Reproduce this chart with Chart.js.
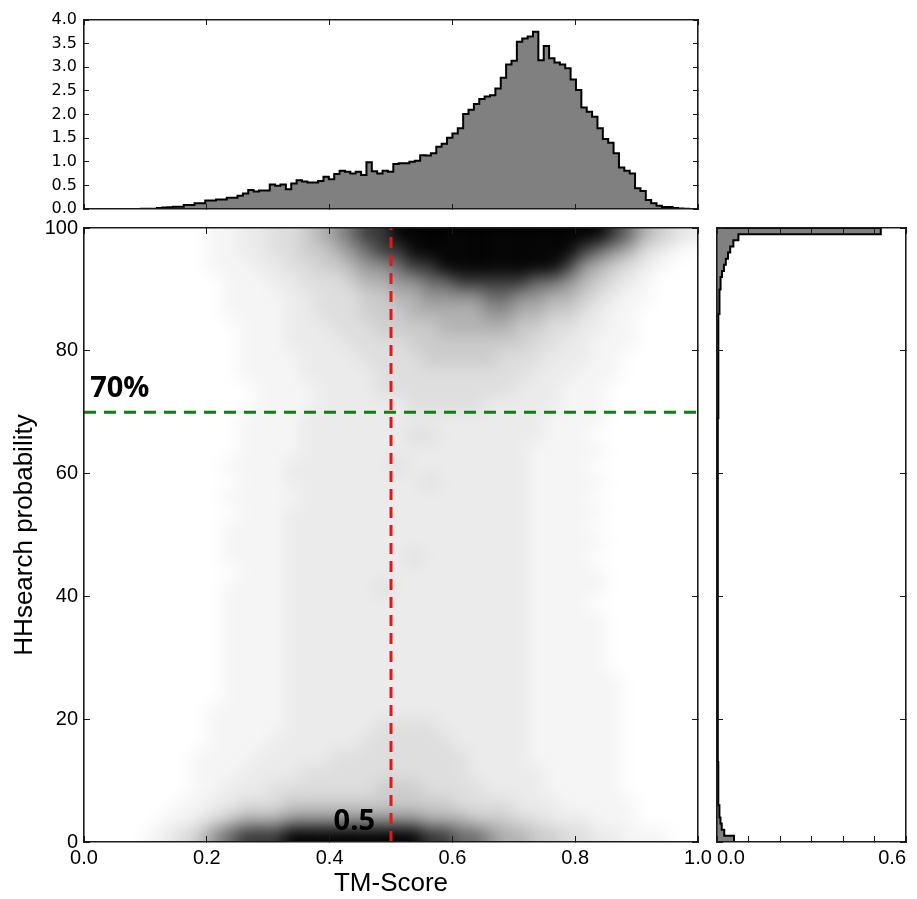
<!DOCTYPE html>
<html>
<head>
<meta charset="utf-8">
<title>TM-Score vs HHsearch probability</title>
<script src="https://cdn.jsdelivr.net/npm/chart.js@4/dist/chart.umd.min.js"></script>
<style>
  body { margin: 0; background: #fff; }
  #wrap { position: relative; width: 917px; height: 899px; overflow: hidden; }
  canvas { position: absolute; }
  #top-hist { left: 0; top: -4px; }
  #scatter { left: 0; top: 198px; }
  #side-hist { left: 705px; top: 215px; }
</style>
</head>
<body>
<div id="wrap">
  <canvas id="top-hist" width="717" height="238"></canvas>
  <canvas id="scatter" width="728" height="701"></canvas>
  <canvas id="side-hist" width="212" height="684"></canvas>
</div>
<script>
// TM-score histogram (density), equal bins starting at tmBinStart
const tmBinStart = 0.0925;
const tmBinWidth = 0.00875;
const tmDensity = [
  0.003, 0.003, 0.005, 0.02, 0.03, 0.035, 0.05, 0.05, 0.085, 0.085,
  0.12, 0.12, 0.18, 0.18, 0.20, 0.20, 0.24, 0.24, 0.28, 0.33,
  0.40, 0.37, 0.39, 0.39, 0.52, 0.49, 0.52, 0.42, 0.54, 0.61,
  0.58, 0.56, 0.56, 0.59, 0.68, 0.63, 0.74, 0.81, 0.79, 0.75,
  0.79, 0.72, 0.99, 0.80, 0.75, 0.81, 0.79, 0.95, 0.97, 0.97,
  1.00, 1.02, 1.14, 1.13, 1.18, 1.32, 1.38, 1.51, 1.60, 1.71,
  2.01, 2.10, 2.22, 2.33, 2.38, 2.41, 2.55, 2.78, 3.06, 3.14,
  3.54, 3.61, 3.65, 3.75, 3.15, 3.45, 3.19, 3.10, 3.06, 2.98,
  2.74, 2.52, 2.15, 2.06, 1.95, 1.71, 1.48, 1.40, 1.18, 0.88,
  0.81, 0.75, 0.44, 0.38, 0.19, 0.12, 0.07, 0.04, 0.04, 0.02,
  0.01, 0.005
];

// HHsearch probability histogram (density), bins of 1 from 0 to 100
const probBinWidth = 1;
const probDensity = [
  0.054, 0.023, 0.015, 0.011, 0.009, 0.007, 0.006, 0.005, 0.0045, 0.004,
  0.0035, 0.0035, 0.0032, 0.003, 0.003, 0.003, 0.0028, 0.0028, 0.0027, 0.0027,
  0.0026, 0.0026, 0.0025, 0.0025, 0.0025, 0.0025, 0.0024, 0.0025, 0.0024, 0.0024,
  0.0024, 0.0024, 0.0024, 0.0023, 0.0024, 0.0024, 0.0023, 0.0024, 0.0024, 0.0024,
  0.0024, 0.0024, 0.0024, 0.0025, 0.0024, 0.0024, 0.0025, 0.0025, 0.0025, 0.0025,
  0.0025, 0.0025, 0.0025, 0.0026, 0.0026, 0.0026, 0.0026, 0.0027, 0.0027, 0.0027,
  0.0028, 0.0028, 0.0028, 0.0029, 0.0029, 0.003, 0.003, 0.003, 0.0031, 0.0032,
  0.0032, 0.0033, 0.0034, 0.0035, 0.0036, 0.0037, 0.0038, 0.004, 0.0041, 0.0043,
  0.0045, 0.0047, 0.005, 0.0053, 0.0057, 0.006, 0.0066, 0.0072, 0.008, 0.009,
  0.01, 0.012, 0.016, 0.022, 0.028, 0.035, 0.042, 0.052, 0.068, 0.52
];

// how crowded the scatter is: 40 TM-score columns (0.025 wide)
// by 40 probability rows (2.5 wide), top row first. 0 = empty, 9 = solid black
const gridTmStep = 0.025;
const gridProbStep = 2.5;
const scatterDensity = [
  "00000000 1122 3345 6788 9999 9999 9999 9987 5432",
  "00000000 1122 3344 5678 8999 9999 9999 8765 3210",
  "00000000 1112 2334 4566 7889 9999 9998 6543 2100",
  "00000000 0111 2233 3455 6677 8888 8776 5432 1000",
  "00000000 0111 1223 3344 5566 6677 6655 4321 1000",
  "00000000 0111 1223 3344 4555 5566 5544 3211 0000",
  "00000000 0011 1222 3334 4445 5555 4433 2211 0000",
  "00000000 0011 1222 2333 3444 4444 4332 2111 0000",
  "00000000 0011 1122 2233 3344 4443 3322 2110 0000",
  "00000000 0011 1122 2223 3333 3333 3222 1110 0000",
  "00000000 0001 1112 2223 3333 3333 2221 1100 0000",
  "00000000 0001 1112 2222 2333 3322 2221 1100 0000",
  "00000000 0011 1122 2222 2222 2222 2211 1100 0000",
  "00000000 0011 1122 2222 2332 2222 2211 1000 0000",
  "00000000 0011 1122 2222 2222 2222 2111 1100 0000",
  "00000000 0111 1222 2222 3222 2222 2111 1000 0000",
  "00000000 0011 1222 2222 2232 2222 2111 1100 0000",
  "00000000 0111 1122 2222 2222 2222 2111 1000 0000",
  "00000000 0011 1222 2222 2222 2222 2111 1100 0000",
  "00000000 0111 1222 2222 2222 2222 2111 1000 0000",
  "00000000 0111 1222 2222 2222 2222 2111 1100 0000",
  "00000000 0111 1222 2222 2322 2222 2111 1000 0000",
  "00000000 0011 1222 2222 2222 2222 2111 1100 0000",
  "00000000 0111 1222 2223 2222 2222 2111 1100 0000",
  "00000000 0111 1222 2222 2222 2222 2111 1000 0000",
  "00000000 0111 1222 2222 2222 2222 2111 1100 0000",
  "00000000 0111 1222 2222 2222 2222 2111 1100 0000",
  "00000000 0111 1222 2222 2222 2222 2111 1100 0000",
  "00000000 0111 1222 2222 2222 2222 2111 1100 0000",
  "00000000 0111 1222 2222 2222 2222 2111 1110 0000",
  "00000000 0111 1222 2222 2222 2222 2111 1110 0000",
  "00000000 1111 1222 2222 2222 2222 2111 1110 0000",
  "00000000 1111 1222 2223 3332 2222 2111 1110 0000",
  "00000000 1111 2222 2233 3333 2222 2111 1110 0000",
  "00000001 1112 2222 3333 3333 3222 2111 1110 0000",
  "00000001 1122 2233 3333 3333 3222 2211 1110 0000",
  "00000001 1222 3333 3334 4433 3322 2211 1110 0000",
  "00000011 2233 3444 4444 4444 3333 2221 1111 0000",
  "00000112 3455 5666 6666 6655 5444 3322 2111 0000",
  "00001234 6788 8999 9999 9988 7765 5443 3221 1100"
];

// thresholds marked on the scatter
const tmCut = 0.5;
const probCut = 70;

// tick values and labels
const tmTicks = [0, 0.2, 0.4, 0.6, 0.8, 1.0];
const probTicks = [0, 20, 40, 60, 80, 100];
const tmDensityTicks = [0, 0.5, 1.0, 1.5, 2.0, 2.5, 3.0, 3.5, 4.0];
const probDensityTicks = [0, 0.1, 0.2, 0.3, 0.4, 0.5, 0.6];
const probDensityLabels = ['0.0', '', '', '', '', '', '0.6'];


/* ============================== HELPERS ============================== */
Chart.defaults.font.family = "'Liberation Sans', Arial, sans-serif";
Chart.defaults.color = '#000';

const INK = '#1a1a1a';
const LEVEL_ALPHA = [0, 0.04, 0.08, 0.13, 0.2, 0.3, 0.42, 0.58, 0.78, 1];

function frameAxis(position, min, max, values, size, tickLen, labels) {
    return {
        type: 'linear',
        position: position,
        min: min,
        max: max,
        afterBuildTicks: scale => { scale.ticks = values.map(v => ({ value: v })); },
        afterFit: scale => {
            if (scale.isHorizontal()) scale.height = size;
            else scale.width = size;
        },
        border: { display: true, color: INK, width: 1.6, z: 1 },
        grid: { drawOnChartArea: false, drawTicks: true, tickLength: -tickLen, color: INK, lineWidth: 1, z: 1 },
        ticks: labels ? {
            display: true,
            autoSkip: false,
            maxRotation: 0,
            font: labels.font,
            padding: labels.padding,
            align: labels.align || 'center',
            callback: labels.format
        } : { display: false },
        title: labels && labels.title ? labels.title : { display: false }
    };
}

const baseOptions = (padding, scales) => ({
    responsive: false,
    animation: false,
    devicePixelRatio: 1,
    events: [],
    layout: { padding: padding },
    plugins: { legend: { display: false }, tooltip: { enabled: false } },
    scales: scales
});

// softens the density cells into a cloud: copy the plot area, stretch its
// edge pixels outward so the blur does not fade at the frame, blur it back
const densityBlur = {
    id: 'densityBlur',
    afterDatasetDraw(chart, args) {
        if (args.index !== 0) return;
        const { ctx, canvas } = chart;
        const { left, top, width, height } = chart.chartArea;
        const w = Math.round(width), h = Math.round(height), m = 24;
        const pad = document.createElement('canvas');
        pad.width = w + 2 * m;
        pad.height = h + 2 * m;
        const p = pad.getContext('2d');
        p.drawImage(canvas, left, top, w, h, m, m, w, h);
        p.drawImage(pad, m, m, w, 1, m, 0, w, m);
        p.drawImage(pad, m, m + h - 1, w, 1, m, m + h, w, m);
        p.drawImage(pad, m, 0, 1, h + 2 * m, 0, 0, m, h + 2 * m);
        p.drawImage(pad, m + w - 1, 0, 1, h + 2 * m, m + w, 0, m, h + 2 * m);

        ctx.save();
        ctx.clearRect(left, top, w, h);
        ctx.beginPath();
        ctx.rect(left, top, w, h);
        ctx.clip();
        ctx.filter = 'blur(8px)';
        ctx.drawImage(pad, left - m, top - m);
        ctx.restore();
    }
};

// bold call-outs next to the threshold lines
const callouts = [
    { text: '70%', tm: 0.01, prob: 72.5, align: 'left' },
    { text: '0.5', tm: 0.474, prob: 1.95, align: 'right' }
];
const calloutPlugin = {
    id: 'callouts',
    afterDatasetsDraw(chart) {
        const { ctx, scales } = chart;
        ctx.save();
        ctx.font = "bold 29px 'Open Sans', 'DejaVu Sans', sans-serif";
        ctx.fillStyle = '#000';
        ctx.textBaseline = 'alphabetic';
        callouts.forEach(c => {
            ctx.textAlign = c.align;
            ctx.fillText(c.text, scales.x.getPixelForValue(c.tm), scales.y.getPixelForValue(c.prob));
        });
        ctx.restore();
    }
};


/* ============================== TOP HISTOGRAM ============================== */
const tmOutline = [{ x: tmBinStart, y: 0 }];
tmDensity.forEach((v, k) => {
    const left = tmBinStart + k * tmBinWidth;
    tmOutline.push({ x: left, y: v }, { x: left + tmBinWidth, y: v });
});
tmOutline.push({ x: tmBinStart + tmDensity.length * tmBinWidth, y: 0 });

new Chart(document.getElementById('top-hist'), {
    type: 'scatter',
    data: {
        datasets: [{
            data: tmOutline,
            showLine: true,
            fill: 'shape',
            backgroundColor: '#808080',
            borderColor: '#000',
            borderWidth: 2,
            pointRadius: 0,
            tension: 0
        }]
    },
    options: baseOptions({ top: 24, right: 19, left: 0, bottom: 0 }, {
        x: frameAxis('bottom', 0, 1, tmTicks, 25, 5, null),
        xTop: frameAxis('top', 0, 1, tmTicks, 0, 5, null),
        y: frameAxis('left', 0, 4, tmDensityTicks, 84, 5, {
            font: { family: "'DejaVu Sans', sans-serif", size: 16 },
            padding: 12,
            format: v => v.toFixed(1)
        }),
        yRight: frameAxis('right', 0, 4, tmDensityTicks, 0, 5, null)
    })
});


/* ============================== SCATTER ============================== */
const densityPoints = [];
const densityColors = [];
scatterDensity.forEach((row, r) => {
    const cells = row.replace(/ /g, '');
    const probCenter = (scatterDensity.length - r - 0.5) * gridProbStep;
    for (let c = 0; c < cells.length; c++) {
        const level = +cells[c];
        if (!level) continue;
        densityPoints.push({ x: (c + 0.5) * gridTmStep, y: probCenter });
        densityColors.push('rgba(0,0,0,' + LEVEL_ALPHA[level] + ')');
    }
});

new Chart(document.getElementById('scatter'), {
    type: 'scatter',
    data: {
        datasets: [{
            data: densityPoints,
            pointStyle: 'rect',
            pointRadius: 10.9,
            pointBorderWidth: 0,
            pointBackgroundColor: densityColors,
            order: 2
        }, {
            data: [{ x: tmCut, y: 0 }, { x: tmCut, y: 100 }],
            showLine: true,
            borderColor: '#e0191b',
            borderWidth: 3,
            borderDash: [11, 7],
            pointRadius: 0,
            order: 0
        }, {
            data: [{ x: 0, y: probCut }, { x: 1, y: probCut }],
            showLine: true,
            borderColor: '#0f7f12',
            borderWidth: 3,
            borderDash: [12, 8],
            pointRadius: 0,
            order: 1
        }]
    },
    options: baseOptions({ top: 30, right: 30, left: 0, bottom: 0 }, {
        x: frameAxis('bottom', 0, 1, tmTicks, 57, 6, {
            font: { size: 20 },
            padding: 10,
            format: v => v.toFixed(1),
            title: { display: true, text: 'TM-Score', font: { size: 26 }, padding: { top: 0, bottom: 0 } }
        }),
        xTop: frameAxis('top', 0, 1, tmTicks, 0, 6, null),
        y: frameAxis('left', 0, 100, probTicks, 84, 6, {
            font: { size: 20 },
            padding: 12,
            format: v => String(v),
            title: { display: true, text: 'HHsearch probability', font: { size: 26 }, padding: { top: 9, bottom: 0 } }
        }),
        yRight: frameAxis('right', 0, 100, probTicks, 0, 6, null)
    }),
    plugins: [densityBlur, calloutPlugin]
});


/* ============================== SIDE HISTOGRAM ============================== */
const probOutline = [{ x: 0, y: 0 }];
probDensity.forEach((v, k) => {
    probOutline.push({ x: v, y: k * probBinWidth }, { x: v, y: (k + 1) * probBinWidth });
});
probOutline.push({ x: 0, y: probDensity.length * probBinWidth });

new Chart(document.getElementById('side-hist'), {
    type: 'scatter',
    data: {
        datasets: [{
            data: probOutline,
            showLine: true,
            fill: 'shape',
            backgroundColor: '#808080',
            borderColor: '#000',
            borderWidth: 2,
            pointRadius: 0,
            tension: 0
        }]
    },
    options: baseOptions({ top: 13, right: 11, left: 0, bottom: 0 }, {
        x: frameAxis('bottom', 0, 0.6, probDensityTicks, 57, 6, {
            font: { size: 20 },
            padding: 10,
            align: 'inner',
            format: (v, i) => probDensityLabels[i]
        }),
        xTop: frameAxis('top', 0, 0.6, probDensityTicks, 0, 6, null),
        y: frameAxis('left', 0, 100, probTicks, 12, 6, null),
        yRight: frameAxis('right', 0, 100, probTicks, 0, 6, null)
    })
});
</script>
</body>
</html>
